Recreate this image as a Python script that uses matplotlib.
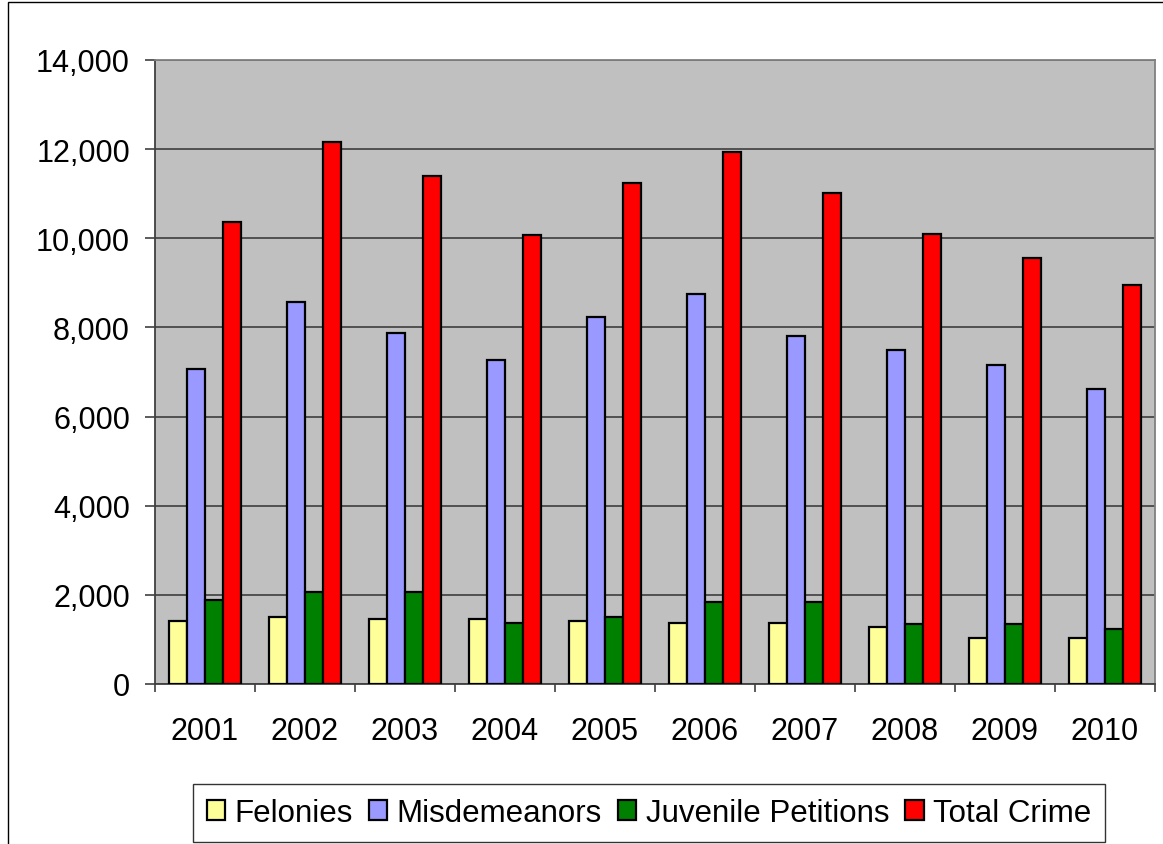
import matplotlib
matplotlib.use("Agg")
import matplotlib.pyplot as plt
import numpy as np
from matplotlib.patches import Rectangle
from matplotlib.ticker import FuncFormatter, MultipleLocator

years = ["2001", "2002", "2003", "2004", "2005", "2006", "2007", "2008", "2009", "2010"]
felonies = [1410, 1510, 1460, 1460, 1410, 1360, 1360, 1290, 1030, 1030]
misdemeanors = [7060, 8570, 7870, 7280, 8240, 8740, 7810, 7490, 7160, 6620]
juvenile = [1890, 2060, 2060, 1360, 1510, 1840, 1840, 1350, 1350, 1230]
total = [10360, 12150, 11390, 10080, 11230, 11930, 11020, 10090, 9550, 8950]

series = [
    ("Felonies", felonies, "#FFFF99"),
    ("Misdemeanors", misdemeanors, "#9999FF"),
    ("Juvenile Petitions", juvenile, "#008000"),
    ("Total Crime", total, "#FF0000"),
]

plt.rcParams['font.family'] = ['Liberation Sans', 'DejaVu Sans']

fig = plt.figure(figsize=(11.63, 8.45), dpi=100)
ax = fig.add_axes([155/1163, 1 - 685/845, 1000/1163, 624/845])
ax.set_facecolor("#C0C0C0")

x = np.arange(len(years))
w = 0.18
for i, (name, vals, col) in enumerate(series):
    ax.bar(x + (i - 1.5) * w, vals, width=w, color=col, edgecolor="black",
           linewidth=1.6, label=name, zorder=3)

ax.set_xlim(-0.5, len(years) - 0.5)
ax.set_ylim(0, 14000)
ax.yaxis.set_major_locator(MultipleLocator(2000))
ax.yaxis.set_major_formatter(FuncFormatter(lambda v, p: f"{int(v):,}"))
ax.grid(axis="y", color="#333333", linewidth=1.1, zorder=1)
ax.set_axisbelow(True)

ax.set_xticks(x)
ax.set_xticklabels(years)
ax.set_xticks(np.arange(-0.5, len(years), 1), minor=True)
ax.tick_params(axis="x", which="major", length=0, pad=23, labelsize=22)
ax.tick_params(axis="x", which="minor", length=6, width=1.2, color="#404040", direction="out")
ax.tick_params(axis="y", length=7, width=1.2, color="#404040", direction="out", labelsize=22, pad=11)

for s in ["left", "bottom"]:
    ax.spines[s].set_color("#404040")
    ax.spines[s].set_linewidth(1.3)
for s in ["top", "right"]:
    ax.spines[s].set_color("#808080")
    ax.spines[s].set_linewidth(1.3)

leg = fig.legend(loc="center", bbox_to_anchor=(649/1163, 1 - 814/845), ncol=4,
                 fontsize=22.5, frameon=True, fancybox=False, edgecolor="black",
                 handlelength=0.6, handleheight=0.6, handletextpad=0.3,
                 columnspacing=0.5, borderpad=0.45)
leg.get_frame().set_linewidth(1.0)

fig.patches.append(Rectangle((8/1163, -0.01), 1.2, 1 - 3/845 + 0.01, transform=fig.transFigure,
                             fill=False, edgecolor="black", linewidth=1.0))

fig.savefig("out.png", dpi=100)
